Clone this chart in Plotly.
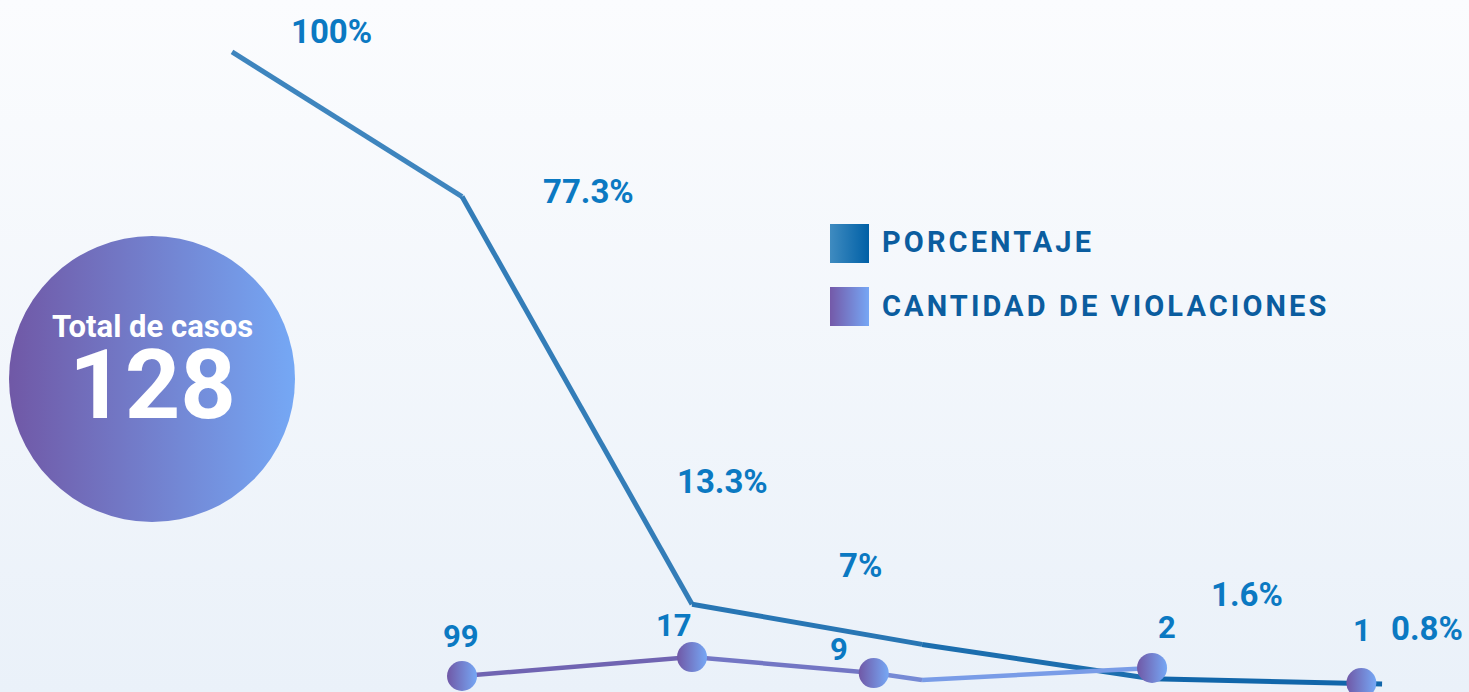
import base64
import plotly.graph_objects as go

# ---------------- data ----------------
pasos = [0, 1, 2, 3, 4, 5]                      # category positions along the chart
porcentaje = [100, 77.3, 13.3, 7, 1.6, 0.8]
porcentaje_txt = ["100%", "77.3%", "13.3%", "7%", "1.6%", "0.8%"]

violaciones = [99, 17, 9, 2, 1]
violaciones_x = [1, 2, 2.79, 4, 4.91]           # where each bubble sits
violaciones_nivel = [2.04, 5.02, 2.51, 3.30, 0.94]  # drawn height of each bubble
# purple ribbon path (connects the first four bubbles, with one bend)
cinta_x = [1, 2, 2.79, 3.0, 4]
cinta_nivel = [2.04, 5.02, 2.51, 1.41, 3.30]

total_casos = 128

# ---------------- styles ----------------
W, H = 1469, 692
LABEL_BLUE = "#0b79c2"
LEGEND_BLUE = "#0b5d9f"
pct_offsets = [(99, 20), (126, 5), (30, 123), (-62, 79), (95, 84), (45, 55)]
cnt_offsets = [(-1, 40), (-18, 32), (-35, 24), (15, 40), (1, 53)]


def mix(c1, c2, t):
    a = [int(c1[i:i + 2], 16) for i in (1, 3, 5)]
    b = [int(c2[i:i + 2], 16) for i in (1, 3, 5)]
    return "#" + "".join(f"{round(a[k] + (b[k] - a[k]) * t):02x}" for k in range(3))


def svg_uri(svg):
    return "data:image/svg+xml;base64," + base64.b64encode(svg.encode()).decode()


def grad_svg(c1, c2, shape, vertical=False):
    x2, y2 = ("0", "1") if vertical else ("1", "0")
    body = ("<rect width='100' height='100' fill='url(#g)'/>" if shape == "rect"
            else "<ellipse cx='50' cy='50' rx='50' ry='50' fill='url(#g)'/>")
    return (f"<svg xmlns='http://www.w3.org/2000/svg' width='100' height='100' viewBox='0 0 100 100' "
            f"preserveAspectRatio='none'><defs><linearGradient id='g' x1='0' y1='0' x2='{x2}' y2='{y2}'>"
            f"<stop offset='0' stop-color='{c1}'/><stop offset='1' stop-color='{c2}'/></linearGradient></defs>"
            f"{body}</svg>")


def px_image(svg, x0, y0, w, h, layer="below"):
    return dict(source=svg_uri(svg), xref="paper", yref="paper",
                x=x0 / W, y=1 - y0 / H, sizex=w / W, sizey=h / H,
                xanchor="left", yanchor="top", sizing="stretch", layer=layer)


fig = go.Figure()

# percentage line, drawn segment by segment to imitate its colour gradient
n = len(pasos) - 1
for i in range(n):
    fig.add_trace(go.Scatter(
        x=pasos[i:i + 2], y=porcentaje[i:i + 2], mode="lines",
        line=dict(color=mix("#4489c0", "#0b62a7", (i + 0.5) / n), width=5),
        hoverinfo="skip", showlegend=False, cliponaxis=False))

# purple ribbon
m = len(cinta_x) - 1
for i in range(m):
    fig.add_trace(go.Scatter(
        x=cinta_x[i:i + 2], y=cinta_nivel[i:i + 2], mode="lines",
        line=dict(color=mix("#6f5aa9", "#7aa6f0", (i + 0.5) / m), width=4.5),
        hoverinfo="skip", showlegend=False, cliponaxis=False))

# bubbles (horizontal gradient: marker colour on the left, gradient colour on the right)
fig.add_trace(go.Scatter(
    x=violaciones_x, y=violaciones_nivel, mode="markers",
    marker=dict(size=30, color="#7058a6", line=dict(width=0),
                gradient=dict(type="horizontal", color="#76a8f5")),
    customdata=violaciones, hovertemplate="%{customdata}<extra></extra>",
    showlegend=False, cliponaxis=False))

annotations = []
for i, t in enumerate(porcentaje_txt):
    dx, dy = pct_offsets[i]
    annotations.append(dict(
        x=pasos[i], y=porcentaje[i], xref="x", yref="y", text=t, showarrow=False,
        xshift=dx, yshift=dy, xanchor="center", yanchor="middle",
        font=dict(family="Roboto", size=33, color=LABEL_BLUE, weight=700)))
for i, v in enumerate(violaciones):
    dx, dy = cnt_offsets[i]
    annotations.append(dict(
        x=violaciones_x[i], y=violaciones_nivel[i], xref="x", yref="y", text=str(v),
        showarrow=False, xshift=dx, yshift=dy, xanchor="center", yanchor="middle",
        font=dict(family="Roboto", size=31, color=LABEL_BLUE, weight=700)))

# total circle text (one block: caption + big number)
annotations.append(dict(x=152 / W, y=1 - 375 / H, xref="paper", yref="paper",
                        text=f"Total de casos<br> <br><span style='font-size:97px'>{total_casos}</span>",
                        showarrow=False, xanchor="center", yanchor="middle", align="center",
                        font=dict(family="Roboto", size=31, color="white", weight=700)))

# legend texts
for label, yc in (("PORCENTAJE", 242), ("CANTIDAD DE VIOLACIONES", 306)):
    annotations.append(dict(x=880 / W, y=1 - yc / H, xref="paper", yref="paper",
                            text=f"<span style='letter-spacing:3.1px'>{label}</span>",
                            showarrow=False, xanchor="left", yanchor="middle",
                            font=dict(family="Roboto", size=29, color=LEGEND_BLUE, weight=700)))

images = [
    px_image(grad_svg("#fbfcfe", "#eaf1f9", "rect", vertical=True), 0, 0, W, H),
    px_image(grad_svg("#7058a6", "#75a8f5", "ellipse"), 9, 236, 286, 286, layer="above"),
    px_image(grad_svg("#3f8bc0", "#0060a6", "rect"), 830, 224, 39, 39, layer="above"),
    px_image(grad_svg("#7459a8", "#76a7f5", "rect"), 830, 287, 39, 39, layer="above"),
]

fig.update_layout(
    width=W, height=H,
    margin=dict(l=0, r=0, t=0, b=0),
    paper_bgcolor="#f3f7fc", plot_bgcolor="rgba(0,0,0,0)",
    xaxis=dict(range=[-1.0087, 5.378], visible=False, fixedrange=True),
    yaxis=dict(range=[-0.47, 108.16], visible=False, fixedrange=True),
    annotations=annotations, images=images, showlegend=False,
)

fig.write_html(
    "out.html",
    config={"displayModeBar": False},
    post_script="document.body.style.margin='0';document.body.style.overflow='hidden';"
                "document.body.style.background='#eef3fa';",
)
